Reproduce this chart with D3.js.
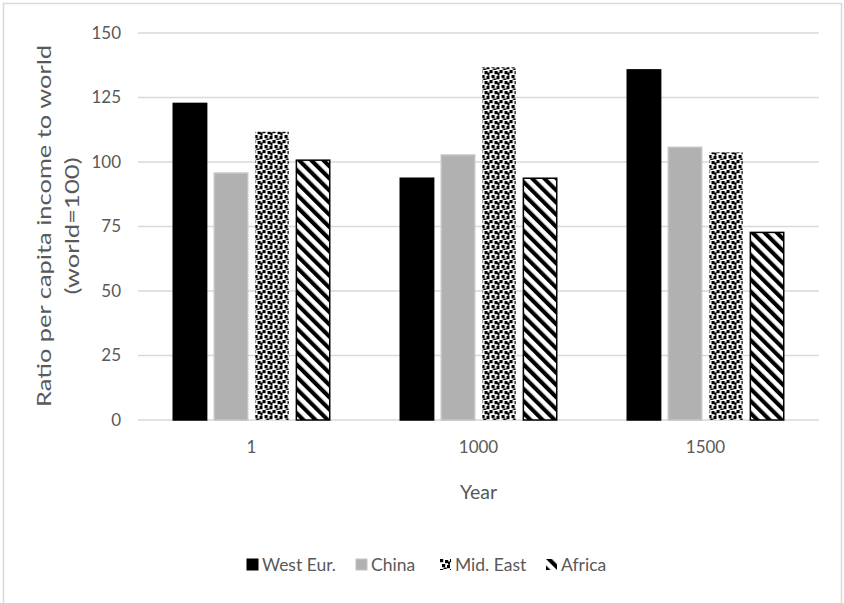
<!DOCTYPE html>
<html><head><meta charset="utf-8">
<script src="https://cdn.jsdelivr.net/npm/d3@7"></script>
<style>body{margin:0;background:#fff}svg{display:block;font-family:Lato,"Open Sans",sans-serif}</style>
</head><body><svg id="c" width="844" height="603"></svg>
<script>
const categories = ["1", "1000", "1500"];
const seriesNames = ["West Eur.", "China", "Mid. East", "Africa"];
const westEur = [123, 94, 136];
const china = [96, 103, 106];
const midEast = [112, 137, 104];
const africa = [101, 94, 73];
const yTicks = [0, 25, 50, 75, 100, 125, 150];

(function(){
const seriesValues = [westEur, china, midEast, africa];
const svg = d3.select("#c");
const defs = svg.append("defs");

// patterns
const conf = defs.append("pattern").attr("id","confetti").attr("patternUnits","userSpaceOnUse")
  .attr("width",10).attr("height",10);
conf.append("rect").attr("width",10).attr("height",10).attr("fill","#fff");
[[0,0],[5,1],[2,5],[7,6],[8,2.5],[3.5,8.5]].forEach(([x,y])=>conf.append("rect").attr("x",x).attr("y",y).attr("width",3.2).attr("height",3.2).attr("fill","#000"));
const str = defs.append("pattern").attr("id","stripes").attr("patternUnits","userSpaceOnUse")
  .attr("width",8.6).attr("height",8.6).attr("patternTransform","rotate(-45)");
str.append("rect").attr("width",8.6).attr("height",8.6).attr("fill","#fff");
str.append("rect").attr("width",4.1).attr("height",8.6).attr("fill","#000");

const styles = [
  {fill:"#000", stroke:"#000"},
  {fill:"#b1b1b1", stroke:"#c4c4c4"},
  {fill:"url(#confetti)", stroke:"none"},
  {fill:"url(#stripes)", stroke:"#000"}
];

// outer border
svg.append("rect").attr("x",3.5).attr("y",3.5).attr("width",838).attr("height",610)
  .attr("fill","none").attr("stroke","#d9d9d9").attr("stroke-width",1.5);

const pLeft = 138, pRight = 819, pTop = 33, pBottom = 420;
const y = d3.scaleLinear().domain([0,150]).range([pBottom, pTop]);
const x0 = d3.scaleBand().domain(categories).range([pLeft,pRight]).paddingInner(0.304).paddingOuter(0.152);
const x1 = d3.scaleBand().domain(seriesNames).range([0,x0.bandwidth()]).paddingInner(0.15).paddingOuter(0);

// gridlines
svg.append("g").selectAll("line").data(yTicks).join("line")
  .attr("x1",pLeft).attr("x2",pRight).attr("y1",d=>y(d)).attr("y2",d=>y(d))
  .attr("stroke","#d9d9d9").attr("stroke-width",1.6);

// y axis labels
const yAxis = d3.axisLeft(y).tickValues(yTicks).tickSize(0).tickPadding(0);
const ya = svg.append("g").attr("transform","translate(121,0)").call(yAxis);
ya.select(".domain").remove();
ya.selectAll("text").attr("fill","#595959").style("font-size","17px").style("font-family","Lato");

// x axis labels
const xAxis = d3.axisBottom(x0).tickSize(0).tickPadding(0);
const xa = svg.append("g").attr("transform","translate(0,441)").call(xAxis);
xa.select(".domain").remove();
xa.selectAll("text").attr("fill","#595959").style("font-size","17px").style("font-family","Lato");

// bars
const groups = svg.append("g").selectAll("g").data(categories).join("g")
  .attr("transform",c=>`translate(${x0(c)},0)`);
groups.selectAll("rect").data((c,ci)=>seriesNames.map((s,si)=>({s,si,v:seriesValues[si][ci]})))
  .join("rect")
  .attr("x",d=>x1(d.s)+0.75).attr("width",x1.bandwidth()-1.5)
  .attr("y",d=>y(d.v)+0.75).attr("height",d=>pBottom-y(d.v)-0.75)
  .attr("fill",d=>styles[d.si].fill).attr("stroke",d=>styles[d.si].stroke).attr("stroke-width",1.5);

// axis titles
svg.append("text").attr("x",(pLeft+pRight)/2).attr("y",499).attr("text-anchor","middle")
  .attr("fill","#595959").style("font-size","19.5px").text("Year");
const yt = svg.append("text").attr("transform","translate(0,226) rotate(-90)").attr("text-anchor","middle")
  .attr("fill","#595959").style("font-size","19.5px");
yt.append("tspan").attr("x",0).attr("y",51).attr("textLength",362).attr("lengthAdjust","spacingAndGlyphs").text("Ratio per capita income to world");
yt.append("tspan").attr("x",0).attr("y",79).attr("textLength",137).attr("lengthAdjust","spacingAndGlyphs").text("(world=100)");

// legend
const legendX = [247, 356, 440, 546];
const lg = svg.append("g").selectAll("g").data(seriesNames).join("g")
  .attr("transform",(d,i)=>`translate(${legendX[i]},559)`);
lg.append("rect").attr("width",11).attr("height",11)
  .attr("fill",(d,i)=>styles[i].fill).attr("stroke",(d,i)=>i===3?"none":styles[i].stroke).attr("stroke-width",1);
lg.append("text").attr("x",15).attr("y",11.5).attr("fill","#595959").style("font-size","17.5px").text(d=>d);
})();
</script></body></html>
